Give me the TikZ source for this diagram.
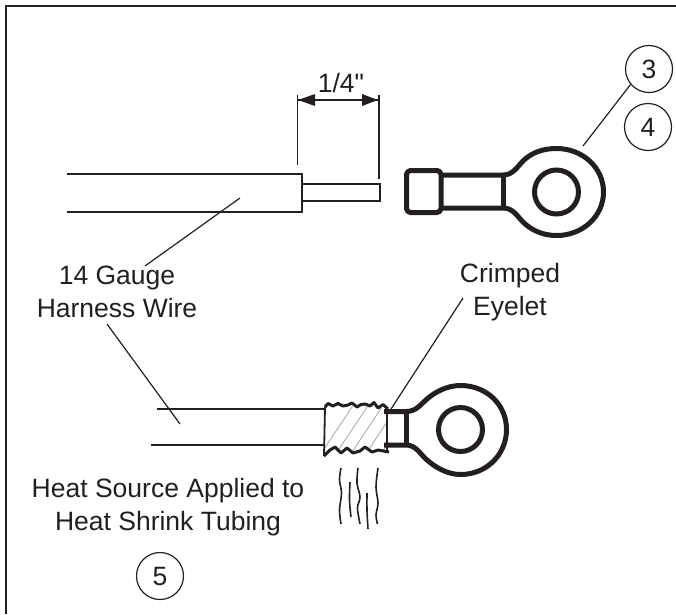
\documentclass[tikz,border=0pt]{standalone}
\usepackage{fontspec}
\setmainfont{Liberation Sans}[Ligatures=TeXOff]
\definecolor{ink}{HTML}{231F20}
\tikzset{
  wire/.style={draw=ink,line width=2.4pt},
  thin lead/.style={draw=ink,line width=1.2pt},
  eyeline/.style={draw=ink,line width=5pt,line join=round},
  tube/.style={draw=ink,line width=3pt,line join=round},
  hatchline/.style={draw=ink!45,line width=0.7pt},
  steam/.style={draw=ink,line width=1.6pt,smooth,tension=0.6},
  label/.style={text=ink,font=\fontsize{26.5}{33.5}\selectfont,align=center,inner sep=0pt},
  callout/.style={circle,draw=ink,line width=1.2pt,minimum size=47pt,inner sep=0pt,text=ink,font=\fontsize{26.5}{30}\selectfont}
}
\begin{document}
\begin{tikzpicture}[x=1pt,y=-1pt]
\useasboundingbox (0,0) rectangle (676,614);
% frame
\draw[draw=ink,line width=2.4pt] (6,614) -- (6,6) -- (676,6);
% upper wire
\draw[wire] (67,174) -- (302,174) -- (302,212) -- (67,212);
\draw[draw=ink,line width=2pt] (302,184) -- (380,184) -- (380,201) -- (302,201);
% dimension
\coordinate (dl1) at (297.5,95); \coordinate (dl2) at (297.5,165);
\coordinate (dr1) at (379,95); \coordinate (dr2) at (379,179);
\coordinate (da) at (298,100); \coordinate (db) at (378,100);
\draw[thin lead] (dl1) -- (dl2);
\draw[thin lead] (dr1) -- (dr2);
\fill[ink] (298,100) -- (315,94) -- (315,106) -- cycle;
\fill[ink] (378,100) -- (362,94) -- (362,106) -- cycle;
\draw[draw=ink,line width=1.6pt] (da) -- (db);
\node[label] (dim) at (341,83) {1/4"};
% upper eyelet
\draw[eyeline,rounded corners=4pt] (406.5,170.5) rectangle (441,212.5);
\draw[eyeline] (441,175) -- (503,175) .. controls (513,175) and (517,167) .. (523,161)
  .. controls (532,152) and (544,148.5) .. (556.5,148.5)
  .. controls (583,148.5) and (603.5,168) .. (603.5,192)
  .. controls (603.5,216) and (583,235.5) .. (556.5,235.5)
  .. controls (544,235.5) and (532,231) .. (523,222)
  .. controls (517,216) and (513,208) .. (503,208) -- (441,208);
\draw[eyeline] (503,175) -- (503,208);
\node[circle,draw=ink,line width=5pt,minimum size=44pt,inner sep=0pt] (holeA) at (556.5,192) {};
% lower wire
\draw[wire] (157,409) -- (324,409);
\draw[wire] (151,445) -- (324,445);
% hatching
\begin{scope}
\clip (325,405) -- (387,408) -- (387,450) -- (324,453) -- cycle;
\foreach \x in {322,337,352,367,382,397}
  \draw[hatchline] (\x,452) -- (\x+36,398);
\end{scope}
% shrink tube outline
\draw[draw=ink,line width=1.8pt] (325,407) -- (324,456);
\draw[tube] (325,407) -- (328,403.5) -- (333,406) -- (338,403.5) -- (343,406) -- (348,405) -- (352,403) -- (357,407) -- (361,404.5) -- (365,404) -- (370,406) -- (374,402.5) -- (378,408) -- (383,404.5) -- (388,409);
\draw[tube] (324,456) -- (330,450) -- (335,447) -- (341,453) -- (347,448) -- (353,453) -- (360,451) -- (365,447) -- (372,452) -- (378,450) -- (389,452);
\draw[draw=ink,line width=1.8pt] (387,408) -- (387,453);
% lower eyelet
\draw[eyeline] (384,411.5) -- (406,411.5) .. controls (416,411.5) and (420,405) .. (427,399)
  .. controls (435,392) and (447,385.5) .. (460.5,385.5)
  .. controls (487,385.5) and (506.5,405) .. (506.5,429.5)
  .. controls (506.5,454) and (487,474.5) .. (460.5,474.5)
  .. controls (447,474.5) and (435,467) .. (427,460)
  .. controls (420,454) and (416,445) .. (406,445) -- (384,445);
\draw[eyeline] (406,411.5) -- (406,445);
\node[circle,draw=ink,line width=5pt,minimum size=44pt,inner sep=0pt] (holeB) at (460.5,429.5) {};
% heat waves
\draw[steam] plot coordinates {(341,468) (339.5,480) (341.5,493) (339.5,510) (341,524)};
\draw[steam] plot coordinates {(350,482) (349.5,500) (351,517)};
\draw[steam] plot coordinates {(358,468) (357,483) (360,497) (357.5,508) (360,524)};
\draw[steam] plot coordinates {(367,493) (367,510) (368,529)};
\draw[steam] plot coordinates {(378,468) (376,487) (378,503) (376,515) (377.5,524)};
% labels
\node[label] (gauge) at (117,292) {14 Gauge\\Harness Wire};
\node[label] (crimp) at (510,292) {Crimped\\Eyelet};
\node[label] (heat) at (168,507) {Heat Source Applied to\\Heat Shrink Tubing};
% callouts
\node[callout] (c3) at (649,69) {3};
\node[callout] (c4) at (648,127) {4};
\node[callout] (c5) at (160,576) {5};
% leaders
\coordinate (wireA) at (240,198);
\coordinate (gaugeA) at (145,266);
\coordinate (gaugeB) at (107,324);
\coordinate (wireB) at (180,424);
\coordinate (crimpA) at (463,298);
\coordinate (crimpB) at (391,409);
\coordinate (eyeA) at (583,146);
\draw[thin lead] (wireA) -- (gaugeA);
\draw[thin lead] (gaugeB) -- (wireB);
\draw[thin lead] (crimpA) -- (crimpB);
\draw[thin lead] (c3.220) -- (eyeA);
\end{tikzpicture}
\end{document}
